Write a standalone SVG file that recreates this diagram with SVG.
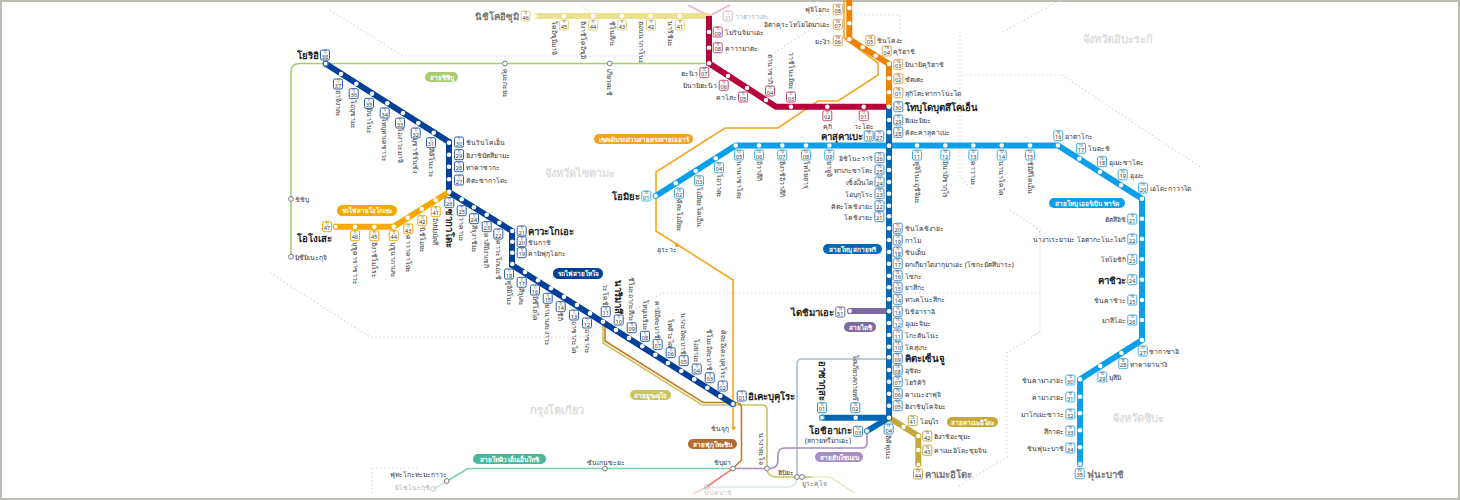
<svg xmlns="http://www.w3.org/2000/svg" width="1460" height="500" viewBox="0 0 1460 500">
<style>
text{font-family:"Noto Sans","Liberation Sans","DejaVu Sans",sans-serif;fill:#333;font-size:6.8px;dominant-baseline:central}
.c{font-size:3px;text-anchor:middle}
.n{font-size:5.6px;text-anchor:middle}
.r{text-anchor:end}
.v{writing-mode:vertical-rl}
.e{writing-mode:vertical-rl;text-anchor:end}
.h{font-size:9.6px;font-weight:bold;fill:#222}
.g{fill:#777}
.f{opacity:.4}
.p{fill:#fff;font-weight:bold;font-size:6.4px;text-anchor:middle}
.w{fill:#ddd;font-size:11px;font-weight:bold}
circle{fill:#fff}
.o{stroke:#777;stroke-width:1}
path{fill:none}
.t{stroke-width:1.2}
.ln{stroke-width:6}
.th{stroke-width:1.6}
.d{stroke:#d8d8d8;stroke-width:1.2;stroke-dasharray:1.4 2.6}
#b{fill:#fff;stroke-width:1}
.tj use,.tj .t{stroke:#2a5fae}.ti use,.ti .t{stroke:#c9487a}.tn use{stroke:#f3a04a}.ky use{stroke:#e6d772}
.og use,.og .t{stroke:#f5a800}.ts use,.ts .t{stroke:#3f8fd2}.td use,.td .t{stroke:#3cb2ef}.ka use,.ka .t{stroke:#c5a93c}.da use,.da .t{stroke:#7b6a9f}
</style>
<defs><rect id="b" x="-4.5" y="-5" width="9" height="10" rx="1.5"/></defs>
<rect x="1" y="1" width="1458" height="498" fill="#fff" stroke="#bcbcb4" stroke-width="2"/>
<g id="boundaries">
<path class="d" d="M330,10L403,56H709M771,55L817,25V15H900V32M1003,32L1060,0M960,35V177L973,190M962,75H1062L1200,167M1010,210L1040,230V332L1007,353V457L957,487M1030,223L1040,232M1040,332L1030,337M270,273L370,337H590L662,293H1040M372,468H420M372,468V493"/>
<text class="w" x="1083" y="38">จังหวัดอิบะระกิ</text>
<text class="w" x="545" y="172">จังหวัดไซตามะ</text>
<text class="w" x="530" y="409">กรุงโตเกียว</text>
<text class="w" x="1113" y="417">จังหวัดชิบะ</text>
</g>
<g id="connectors">
<path class="th" stroke="#a9cc6f" d="M291,256V72Q291,63.5 300,63.5H709"/>
<path class="th f" stroke="#c9487a" d="M688,5L709,16L730,5"/>
<path class="th f" stroke="#ebe28f" d="M581,5L593,16"/>
<path class="th" stroke="#f5a623" d="M844,0V38L878,63V75L838,101H818L778,128H725L656,172V231L733,280V428"/>
<path class="th" stroke="#a8bfca" d="M889,359H802Q797,359 797,364V477"/>
<path class="th f" stroke="#a8bfca" d="M797,477Q797,487 787,487H707"/>
<path class="th" stroke="#76d3b0" d="M733,468.5H468L447,481"/>
<path class="th f" stroke="#76d3b0" d="M447,481L433,489"/>
<path class="th" stroke="#f08080" d="M733,468.5L705,488"/>
<path class="th f" stroke="#f08080" d="M705,488L693,494"/>
<path class="th" stroke="#a78dc1" d="M733,468.5H770Q778,468 778,460V455Q778,448 785,448H862Q867,448 867,443V431"/>
<path class="th" stroke="#c9c660" d="M603,322V343L702,405H762Q767,405 767,410V468Q767,477 777,477H812"/>
<path class="th f" stroke="#c9c660" d="M812,477H830L855,493"/>
<path class="th" stroke="#c77a28" d="M605,322V341L703,402.5H735Q741.5,402.5 741.5,408V460L733,468.5"/>
<path class="ln" stroke="#004098" d="M325.7,63.7L449,142V192L512,231V265L733,404"/>
<path class="ln" stroke="#f5a800" d="M449,192L393.5,226.7H335.7"/>
<path class="ln" stroke="#ebe28f" d="M709,16H534"/>
<path class="ln" stroke="#b5023b" d="M709,16V63.3L776,106.7H889"/>
<path class="ln" stroke="#ef8200" d="M849.3,0V39.3L889,64V106.7"/>
<path class="ln" stroke="#7b6a9f" d="M850,311H889"/>
<path class="ln" stroke="#c5a93c" d="M889,417.7L918.3,436V464.3"/>
<path class="ln" stroke="#0a9fe8" d="M655.7,196L735.7,145.5H1058L1142,198.7V340L1080,379.3V464"/>
<path class="ln" stroke="#0068b7" d="M889,106.7V417.7L867,431M822,417.7H889"/>
</g>
<g id="pills">
<g id="p-chichibu"><rect x="425" y="72" width="33" height="10" rx="5" fill="#a9cc6f"/><text class="p" x="441.5" y="77">สายชิชิบุ</text></g>
<g id="p-ogose"><rect x="337" y="205" width="60" height="11" rx="5.5" fill="#f5a800"/><text class="p" x="367" y="210.5">รถไฟสายโอโกเซะ</text></g>
<g id="p-tojo"><rect x="553" y="268" width="50" height="11" rx="5.5" fill="#004098"/><text class="p" x="578" y="273.5">รถไฟสายโทโจ</text></g>
<g id="p-jr"><rect x="594" y="134" width="99" height="10" rx="5" fill="#f5a020"/><text class="p" x="643.5" y="139">เขตเดินรถด่วนสายตรงสายเจอาร์</text></g>
<g id="p-yura"><rect x="630" y="390" width="41" height="10" rx="5" fill="#c9c660"/><text class="p" x="650.5" y="395">สายยูระคุโจ</text></g>
<g id="p-fuku"><rect x="688" y="439" width="49" height="10" rx="5" fill="#b26b32"/><text class="p" x="712.5" y="444">สายฟุกุโทะชิน</text></g>
<g id="p-tokyu"><rect x="473" y="454" width="73" height="10" rx="5" fill="#48b898"/><text class="p" x="509.5" y="459">สายโทคิว เด็นเอ็นโทชิ</text></g>
<g id="p-hanzo"><rect x="815" y="452" width="48" height="10" rx="5" fill="#a78dc1"/><text class="p" x="839" y="457">สายฮันโซมอน</text></g>
<g id="p-daishi"><rect x="844" y="322" width="32" height="10" rx="5" fill="#7b6a9f"/><text class="p" x="860" y="327">สายไดชิ</text></g>
<g id="p-sky"><rect x="823" y="244" width="59" height="10" rx="5" fill="#0068b7"/><text class="p" x="852.5" y="249">สายโทบุ สกายทรี</text></g>
<g id="p-urban"><rect x="1049" y="198" width="76" height="10" rx="5" fill="#0a9fe8"/><text class="p" x="1087" y="203">สายโทบุ เออร์เบิน พาร์ค</text></g>
<g id="p-kame"><rect x="947" y="417" width="51" height="10" rx="5" fill="#c5a93c"/><text class="p" x="972.5" y="422">สายคาเมะอิโดะ</text></g>
</g>
<g id="other-stations">
<g id="chichibu"><circle class="o" cx="291" cy="199" r="2.4"/><text x="295" y="199">ชิชิบุ</text></g>
<g id="mitsumine"><circle class="o" cx="291" cy="256.7" r="2.4"/><text x="295" y="257">มิซึมิเนะกุจิ</text></g>
<g id="kumagaya"><circle class="o" cx="505" cy="63.5" r="2.4"/><text class="v" x="505" y="69">คุมะกะยะ</text></g>
<g id="gyoda"><circle class="o" cx="609.7" cy="63.5" r="2.4"/><text class="v" x="609.7" y="69">เกียวดะชิ</text></g>
<g id="urawa"><circle cx="677" cy="245.3" r="2" style="fill:#f5a623"/><text x="657" y="249">อุระวะ</text></g>
<g id="shinjuku"><circle cx="733.5" cy="428" r="2" style="fill:#f5a623"/><text class="r" x="729" y="428">ชินจุกุ</text></g>
<g id="shibuya"><circle class="o" cx="733" cy="468.5" r="2.4"/><text class="r" x="731" y="462">ชิบุย่า</text></g>
<g id="sangen"><circle class="o" cx="605" cy="468.5" r="2.4"/><text x="587" y="462">ซันเกนชะยะ</text></g>
<g id="futako"><circle class="o" cx="446.7" cy="481" r="2.4"/><text class="r" x="447" y="474">ฟุทะโกะทะมะกาวะ</text></g>
<g id="mizono" class="f"><circle class="o" cx="433" cy="489" r="2.4"/><text class="r" x="430" y="487">มิโซโนะกุชิ</text></g>
<g id="nagata"><circle class="o" cx="767" cy="468.5" r="2.4"/><text class="e" x="761" y="465">นางาตะโจ</text></g>
<g id="hibiya"><circle class="o" cx="797" cy="477" r="2.4"/><text class="r" x="794" y="472">ฮิบิยะ</text></g>
<g id="yurakucho"><circle class="o" cx="802" cy="477" r="2.4"/><text class="g" x="802" y="483">ยูระคุโจ</text></g>
<g id="takeb" class="f"><circle class="o" cx="706.7" cy="487" r="2.4"/><text class="g" x="704" y="492">ทาเคบาชิ</text></g>
</g>
<g class="tj">
<g id="TJ01"><circle class="t" cx="733" cy="404" r="2.5"/><g transform="translate(741.7,396)"><use href="#b"/><text class="c" y="-2.6">TJ</text><text class="n" y="1.6">01</text></g><text class="h" x="748" y="396">อิเคะบุคุโระ</text></g>
<g id="TJ02"><circle cx="720.3" cy="396" r="2.3"/><g transform="translate(722.7,386)"><use href="#b"/><text class="c" y="-2.6">TJ</text><text class="n" y="1.6">02</text></g><text class="e" x="723" y="379">คิตะอิเคะบุคุโระ</text></g>
<g id="TJ03"><circle cx="707.3" cy="387.7" r="2.3"/><g transform="translate(709.7,377.7)"><use href="#b"/><text class="c" y="-2.6">TJ</text><text class="n" y="1.6">03</text></g><text class="e" x="709.7" y="371">ชิโมะอิตะบาชิ</text></g>
<g id="TJ04"><circle cx="694.3" cy="379.3" r="2.3"/><g transform="translate(696.7,369)"><use href="#b"/><text class="c" y="-2.6">TJ</text><text class="n" y="1.6">04</text></g><text class="e" x="696.7" y="362.5">โอยามะ</text></g>
<g id="TJ05"><circle cx="681.3" cy="371" r="2.3"/><g transform="translate(683.7,360.7)"><use href="#b"/><text class="c" y="-2.6">TJ</text><text class="n" y="1.6">05</text></g><text class="e" x="683.7" y="354.5">นากะอิตะบาชิ</text></g>
<g id="TJ06"><circle cx="668" cy="363" r="2.3"/><g transform="translate(670.7,352.7)"><use href="#b"/><text class="c" y="-2.6">TJ</text><text class="n" y="1.6">06</text></g><text class="e" x="670.7" y="346.5">โทคิวะได</text></g>
<g id="TJ07"><circle cx="655.3" cy="354.7" r="2.3"/><g transform="translate(657.7,344.3)"><use href="#b"/><text class="c" y="-2.6">TJ</text><text class="n" y="1.6">07</text></g><text class="e" x="657.7" y="338.5">คามิอิตะบาชิ</text></g>
<g id="TJ08"><circle cx="642.3" cy="346.3" r="2.3"/><g transform="translate(645,336.3)"><use href="#b"/><text class="c" y="-2.6">TJ</text><text class="n" y="1.6">08</text></g><text class="e" x="645" y="330.5">โทบุเนริมะ</text></g>
<g id="TJ09"><circle cx="629" cy="338" r="2.3"/><g transform="translate(631.7,327.7)"><use href="#b"/><text class="c" y="-2.6">TJ</text><text class="n" y="1.6">09</text></g><text class="e" x="631.7" y="322">ชิโมะอากะสึกะ</text></g>
<g id="TJ10"><circle cx="616" cy="330" r="2.3"/><g transform="translate(618.7,320)"><use href="#b"/><text class="c" y="-2.6">TJ</text><text class="n" y="1.6">10</text></g><text class="e h" x="618.7" y="314">นาริมาสึ</text></g>
<g id="TJ11"><circle cx="603" cy="321.7" r="2.3"/><g transform="translate(605.7,311.7)"><use href="#b"/><text class="c" y="-2.6">TJ</text><text class="n" y="1.6">11</text></g><text class="e" x="605.7" y="306">วะโคชิ</text></g>
<g id="TJ12"><circle cx="590" cy="313.4" r="2.3"/><g transform="translate(587,323)"><use href="#b"/><text class="c" y="-2.6">TJ</text><text class="n" y="1.6">12</text></g><text class="v" x="587" y="329">อาซากะ</text></g>
<g id="TJ13"><circle cx="577" cy="305" r="2.3"/><g transform="translate(574,315)"><use href="#b"/><text class="c" y="-2.6">TJ</text><text class="n" y="1.6">13</text></g><text class="v" x="574" y="321">อาซากะได</text></g>
<g id="TJ14"><circle cx="564" cy="296.7" r="2.3"/><g transform="translate(560.7,306.7)"><use href="#b"/><text class="c" y="-2.6">TJ</text><text class="n" y="1.6">14</text></g><text class="v" x="560.7" y="312">ชิกิ</text></g>
<g id="TJ15"><circle cx="551" cy="288.3" r="2.3"/><g transform="translate(547.7,298.3)"><use href="#b"/><text class="c" y="-2.6">TJ</text><text class="n" y="1.6">15</text></g><text class="v" x="547.7" y="304">ยานาเสะงาวะ</text></g>
<g id="TJ16"><circle cx="538" cy="280.3" r="2.3"/><g transform="translate(535,290)"><use href="#b"/><text class="c" y="-2.6">TJ</text><text class="n" y="1.6">16</text></g><text class="v" x="535" y="296">มิซึโฮได</text></g>
<g id="TJ17"><circle cx="525" cy="272" r="2.3"/><g transform="translate(521.7,282.3)"><use href="#b"/><text class="c" y="-2.6">TJ</text><text class="n" y="1.6">17</text></g><text class="v" x="521.7" y="288">สึรุเสะ</text></g>
<g id="TJ18"><circle cx="512.3" cy="264" r="2.3"/><g transform="translate(509,274)"><use href="#b"/><text class="c" y="-2.6">TJ</text><text class="n" y="1.6">18</text></g><text class="v" x="509" y="280">ฟูจิมิโนะ</text></g>
<g id="TJ19"><circle cx="512.3" cy="252.7" r="2.3"/><g transform="translate(521.7,252.7)"><use href="#b"/><text class="c" y="-2.6">TJ</text><text class="n" y="1.6">19</text></g><text x="528" y="253">คามิฟุกุโอกะ</text></g>
<g id="TJ20"><circle cx="512.3" cy="241.7" r="2.3"/><g transform="translate(521.7,241.7)"><use href="#b"/><text class="c" y="-2.6">TJ</text><text class="n" y="1.6">20</text></g><text x="528" y="242">ชินกาชิ</text></g>
<g id="TJ21"><circle cx="512.3" cy="231" r="2.3"/><g transform="translate(521.7,231)"><use href="#b"/><text class="c" y="-2.6">TJ</text><text class="n" y="1.6">21</text></g><text class="h" x="528" y="231">คาวะโกเอะ</text></g>
<g id="TJ22"><circle cx="499.3" cy="222.7" r="2.3"/><g transform="translate(498.3,234)"><use href="#b"/><text class="c" y="-2.6">TJ</text><text class="n" y="1.6">22</text></g><text class="v" x="498.3" y="240">คาวะโกเอะชิ</text></g>
<g id="TJ23"><circle cx="486.7" cy="214.7" r="2.3"/><g transform="translate(486.7,226.7)"><use href="#b"/><text class="c" y="-2.6">TJ</text><text class="n" y="1.6">23</text></g><text class="v" x="486.7" y="233">คาสึมิงาเซกิ</text></g>
<g id="TJ24"><circle cx="474" cy="207.3" r="2.3"/><g transform="translate(474,218.7)"><use href="#b"/><text class="c" y="-2.6">TJ</text><text class="n" y="1.6">24</text></g><text class="v" x="474" y="225">สึรุงาชิมะ</text></g>
<g id="TJ25"><circle cx="461.7" cy="199.3" r="2.3"/><g transform="translate(461.7,210.7)"><use href="#b"/><text class="c" y="-2.6">TJ</text><text class="n" y="1.6">25</text></g><text class="v" x="461.7" y="217">วาคาบะ</text></g>
<g id="TJ26"><circle cx="449.3" cy="191.7" r="2.3"/><g transform="translate(449.3,202.7)"><use href="#b"/><text class="c" y="-2.6">TJ</text><text class="n" y="1.6">26</text></g><text class="v h" x="449.3" y="209">ซากาโดะ</text></g>
<g id="TJ27"><circle cx="449" cy="179.3" r="2.3"/><g transform="translate(459,180)"><use href="#b"/><text class="c" y="-2.6">TJ</text><text class="n" y="1.6">27</text></g><text x="466" y="180">คิตะซากาโดะ</text></g>
<g id="TJ28"><circle cx="449" cy="166.7" r="2.3"/><g transform="translate(459,166.7)"><use href="#b"/><text class="c" y="-2.6">TJ</text><text class="n" y="1.6">28</text></g><text x="466" y="167">ทาคาซากะ</text></g>
<g id="TJ29"><circle cx="449" cy="154.7" r="2.3"/><g transform="translate(459,154.7)"><use href="#b"/><text class="c" y="-2.6">TJ</text><text class="n" y="1.6">29</text></g><text x="466" y="155">ฮิงาชิมัตสึยามะ</text></g>
<g id="TJ30"><circle cx="449" cy="142.7" r="2.3"/><g transform="translate(459,142)"><use href="#b"/><text class="c" y="-2.6">TJ</text><text class="n" y="1.6">30</text></g><text x="466" y="142">ชินรินโคเอ็น</text></g>
<g id="TJ31"><circle cx="433.7" cy="132.7" r="2.3"/><g transform="translate(431,142.7)"><use href="#b"/><text class="c" y="-2.6">TJ</text><text class="n" y="1.6">31</text></g><text class="v" x="431" y="148">สึคิโนะวะ</text></g>
<g id="TJ32"><circle cx="418.3" cy="123" r="2.3"/><g transform="translate(415.7,133)"><use href="#b"/><text class="c" y="-2.6">TJ</text><text class="n" y="1.6">32</text></g><text class="v" x="415.7" y="138">มุซาชิรันซัง</text></g>
<g id="TJ33"><circle cx="403" cy="113" r="2.3"/><g transform="translate(400,123)"><use href="#b"/><text class="c" y="-2.6">TJ</text><text class="n" y="1.6">33</text></g><text class="v" x="400" y="128">โองาวะมาจิ</text></g>
<g id="TJ34"><circle cx="387.3" cy="103.3" r="2.3"/><g transform="translate(384.7,113)"><use href="#b"/><text class="c" y="-2.6">TJ</text><text class="n" y="1.6">34</text></g><text class="v" x="384.7" y="118">โทบุทาเคซาวะ</text></g>
<g id="TJ35"><circle cx="372" cy="93.7" r="2.3"/><g transform="translate(369,103.3)"><use href="#b"/><text class="c" y="-2.6">TJ</text><text class="n" y="1.6">35</text></g><text class="v" x="369" y="108">มินาโนะ</text></g>
<g id="TJ36"><circle cx="356.3" cy="83.7" r="2.3"/><g transform="translate(353.7,93.7)"><use href="#b"/><text class="c" y="-2.6">TJ</text><text class="n" y="1.6">36</text></g><text class="v" x="353.7" y="100">โอบุซามะ</text></g>
<g id="TJ37"><circle cx="341" cy="74" r="2.3"/><g transform="translate(338,84)"><use href="#b"/><text class="c" y="-2.6">TJ</text><text class="n" y="1.6">37</text></g><text class="v" x="338" y="90">ฮาจิงาตะ</text></g>
<g id="TJ38"><circle class="t" cx="325.7" cy="63.7" r="2.5"/><g transform="translate(325,55)"><use href="#b"/><text class="c" y="-2.6">TJ</text><text class="n" y="1.6">38</text></g><text class="h r" x="319" y="55">โยริอิ</text></g>
</g>
<g class="og">
<g id="OG41"><circle cx="435.7" cy="200" r="2.3"/><g transform="translate(435.7,211.7)"><use href="#b"/><text class="c" y="-2.6">TJ</text><text class="n" y="1.6">41</text></g><text class="v" x="435.7" y="218">อิปปงมัตสึ</text></g>
<g id="OG42"><circle cx="421.7" cy="209" r="2.3"/><g transform="translate(422.3,220.7)"><use href="#b"/><text class="c" y="-2.6">TJ</text><text class="n" y="1.6">42</text></g><text class="v" x="422.3" y="227">นิชิโอยะ</text></g>
<g id="OG43"><circle cx="407.7" cy="217.7" r="2.3"/><g transform="translate(408.3,229)"><use href="#b"/><text class="c" y="-2.6">TJ</text><text class="n" y="1.6">43</text></g><text class="v" x="408.3" y="235">คาวาคาโดะ</text></g>
<g id="OG44"><circle cx="393.7" cy="226.7" r="2.3"/><g transform="translate(393.7,235.7)"><use href="#b"/><text class="c" y="-2.6">TJ</text><text class="n" y="1.6">44</text></g><text class="v" x="393.7" y="242">บุชูนากาเสะ</text></g>
<g id="OG45"><circle cx="374.3" cy="226.7" r="2.3"/><g transform="translate(374.3,235.7)"><use href="#b"/><text class="c" y="-2.6">TJ</text><text class="n" y="1.6">45</text></g><text class="v" x="374.3" y="242">ฮิงาชิโมโระ</text></g>
<g id="OG46"><circle cx="355" cy="226.7" r="2.3"/><g transform="translate(355,235.7)"><use href="#b"/><text class="c" y="-2.6">TJ</text><text class="n" y="1.6">46</text></g><text class="v" x="355" y="242">บุชูคาราซาวะ</text></g>
<g id="OG47"><circle class="t" cx="335.7" cy="226.7" r="2.5"/><g transform="translate(327,226.7)"><use href="#b"/><text class="c" y="-2.6">TJ</text><text class="n" y="1.6">47</text></g><text class="h r" x="332" y="238.5">โอโงเสะ</text></g>
</g>
<g class="ky">
<g id="KY41"><circle cx="679.7" cy="16" r="2.3"/><g transform="translate(680,25)"><use href="#b"/><text class="c" y="-2.6">TI</text><text class="n" y="1.6">41</text></g><text class="v" x="670" y="21">นาริชิมะ</text></g>
<g id="KY42"><circle cx="650.7" cy="16" r="2.3"/><g transform="translate(651,25)"><use href="#b"/><text class="c" y="-2.6">TI</text><text class="n" y="1.6">42</text></g><text class="v" x="641" y="21">ฮอนนากาโนะ</text></g>
<g id="KY43"><circle cx="622" cy="16" r="2.3"/><g transform="translate(622,25)"><use href="#b"/><text class="c" y="-2.6">TI</text><text class="n" y="1.6">43</text></g><text class="v" x="612" y="21">ชิโนสึกะ</text></g>
<g id="KY44"><circle cx="593" cy="16" r="2.3"/><g transform="translate(593,25)"><use href="#b"/><text class="c" y="-2.6">TI</text><text class="n" y="1.6">44</text></g><text class="v" x="583" y="21">ฮิงาชิโคอิซุมิ</text></g>
<g id="KY45"><circle cx="564" cy="16" r="2.3"/><g transform="translate(564,25)"><use href="#b"/><text class="c" y="-2.6">TI</text><text class="n" y="1.6">45</text></g><text class="v" x="554" y="21">โคอิซุมิมาจิ</text></g>
<g id="KY46"><circle cx="534.3" cy="16" r="2.5"/><g transform="translate(525.7,16)"><use href="#b"/><text class="c" y="-2.6">TI</text><text class="n" y="1.6">46</text></g><text class="h r g" x="519" y="16">นิชิโคอิซุมิ</text></g>
</g>
<g class="ti">
<g id="TI31" class="f"><g transform="translate(727.7,16)"><use href="#b"/><text class="c" y="-2.6">TI</text><text class="n" y="1.6">31</text></g><text x="735" y="16">วาตาราเสะ</text></g>
<g id="TI09"><circle cx="709" cy="32" r="2.3"/><g transform="translate(717.7,32)"><use href="#b"/><text class="c" y="-2.6">TI</text><text class="n" y="1.6">09</text></g><text x="725" y="32">โมรินจิมาเอะ</text></g>
<g id="TI08"><circle cx="709" cy="47.7" r="2.3"/><g transform="translate(717.7,47.7)"><use href="#b"/><text class="c" y="-2.6">TI</text><text class="n" y="1.6">08</text></g><text x="725" y="48">คาวามาตะ</text></g>
<g id="TI07"><circle cx="709" cy="63.3" r="2.3"/><g transform="translate(704.3,72.7)"><use href="#b"/><text class="c" y="-2.6">TI</text><text class="n" y="1.6">07</text></g><text class="r" x="698" y="73">ฮะนิว</text></g>
<g id="TI06"><circle cx="728" cy="76" r="2.3"/><g transform="translate(723.7,85.3)"><use href="#b"/><text class="c" y="-2.6">TI</text><text class="n" y="1.6">06</text></g><text class="r" x="717" y="85.5">มินามิฮะนิว</text></g>
<g id="TI05"><circle cx="747" cy="88" r="2.3"/><g transform="translate(743,97)"><use href="#b"/><text class="c" y="-2.6">TI</text><text class="n" y="1.6">05</text></g><text class="r" x="737" y="97.5">คาโสะ</text></g>
<g id="TI04"><circle cx="766" cy="100" r="2.3"/><g transform="translate(770,91)"><use href="#b"/><text class="c" y="-2.6">TI</text><text class="n" y="1.6">04</text></g><text class="e" x="770" y="84">ฮานาซากิ</text></g>
<g id="TI03"><circle cx="791" cy="106.7" r="2.3"/><g transform="translate(791,97)"><use href="#b"/><text class="c" y="-2.6">TI</text><text class="n" y="1.6">03</text></g><text class="e" x="791" y="90">วาชิโนะมิยะ</text></g>
<g id="TI02"><circle cx="827.3" cy="106.7" r="2.3"/><g transform="translate(827.3,115.7)"><use href="#b"/><text class="c" y="-2.6">TI</text><text class="n" y="1.6">02</text></g><text style="text-anchor:middle" x="827.3" y="126">คุกิ</text></g>
<g id="TI01"><circle cx="863.7" cy="106.7" r="2.3"/><g transform="translate(863.7,115.7)"><use href="#b"/><text class="c" y="-2.6">TI</text><text class="n" y="1.6">01</text></g><text style="text-anchor:middle" x="863.7" y="126">วะโดะ</text></g>
</g>
<g class="tn">
<g id="TN08"><circle cx="849.3" cy="8" r="2.3"/><g transform="translate(837.7,9.3)"><use href="#b"/><text class="c" y="-2.6">TN</text><text class="n" y="1.6">08</text></g><text class="r" x="830" y="9.5">ฟุจิโอกะ</text></g>
<g id="TN07"><circle cx="849.3" cy="23.3" r="2.3"/><g transform="translate(837.7,24.3)"><use href="#b"/><text class="c" y="-2.6">TN</text><text class="n" y="1.6">07</text></g><text class="r" x="830" y="24.5">อิตาคุระโทโยไดมาเอะ</text></g>
<g id="TN06"><circle cx="849.3" cy="39.3" r="2.3"/><g transform="translate(837.7,40.7)"><use href="#b"/><text class="c" y="-2.6">TN</text><text class="n" y="1.6">06</text></g><text class="r" x="830" y="41">ยะงิว</text></g>
<g id="TN05"><circle cx="862.7" cy="47.3" r="2.3"/><g transform="translate(870.3,40.3)"><use href="#b"/><text class="c" y="-2.6">TN</text><text class="n" y="1.6">05</text></g><text x="877" y="40.5">ชินโคงะ</text></g>
<g id="TN04"><circle cx="875.7" cy="55.7" r="2.3"/><g transform="translate(886.7,51)"><use href="#b"/><text class="c" y="-2.6">TN</text><text class="n" y="1.6">04</text></g><text x="893" y="51.5">คุริฮาชิ</text></g>
<g id="TN03"><circle cx="889" cy="64" r="2.3"/><g transform="translate(898.3,64.3)"><use href="#b"/><text class="c" y="-2.6">TN</text><text class="n" y="1.6">03</text></g><text x="905" y="64.5">มินามิคุริฮาชิ</text></g>
<g id="TN02"><circle cx="889" cy="78.3" r="2.3"/><g transform="translate(898.3,78.7)"><use href="#b"/><text class="c" y="-2.6">TN</text><text class="n" y="1.6">02</text></g><text x="905" y="79">ซัตเตะ</text></g>
<g id="TN01"><circle cx="889" cy="92.3" r="2.3"/><g transform="translate(898.3,92.7)"><use href="#b"/><text class="c" y="-2.6">TN</text><text class="n" y="1.6">01</text></g><text x="905" y="93">สุกิโตะทากาโนะได</text></g>
</g>
<g class="ts">
<g id="TS30"><circle cx="889" cy="106.7" r="2.3"/><g transform="translate(898.3,106.7)"><use href="#b"/><text class="c" y="-2.6">TS</text><text class="n" y="1.6">30</text></g><text class="h" x="905" y="107">โทบุโดบุตสึโคเอ็น</text></g>
<g id="TS29"><circle cx="889" cy="120" r="2.3"/><g transform="translate(898.3,120)"><use href="#b"/><text class="c" y="-2.6">TS</text><text class="n" y="1.6">29</text></g><text x="905" y="120">ฮิเมะมิยะ</text></g>
<g id="TS28"><circle cx="889" cy="132.3" r="2.3"/><g transform="translate(898.3,132.3)"><use href="#b"/><text class="c" y="-2.6">TS</text><text class="n" y="1.6">28</text></g><text x="905" y="132.5">คิตะคาสุคาเบะ</text></g>
<g id="TS27"><circle cx="889" cy="145.7" r="2.3"/><g transform="translate(879.3,136)"><use href="#b"/><text class="c" y="-2.6">TS</text><text class="n" y="1.6">27</text></g><g transform="translate(868.7,136)"><use href="#b"/><text class="c" y="-2.6">TD</text><text class="n" y="1.6">10</text></g><text class="h r" x="862.7" y="136.5">คาสุคาเบะ</text></g>
<g id="TS26"><circle cx="889" cy="157.7" r="2.3"/><g transform="translate(879.5,157.7)"><use href="#b"/><text class="c" y="-2.6">TS</text><text class="n" y="1.6">26</text></g><text class="r" x="873" y="158">อิชิโนะวาริ</text></g>
<g id="TS25"><circle cx="889" cy="170" r="2.3"/><g transform="translate(879.5,170)"><use href="#b"/><text class="c" y="-2.6">TS</text><text class="n" y="1.6">25</text></g><text class="r" x="873" y="170">ทาเกะซาโตะ</text></g>
<g id="TS24"><circle cx="889" cy="182" r="2.3"/><g transform="translate(879.5,182)"><use href="#b"/><text class="c" y="-2.6">TS</text><text class="n" y="1.6">24</text></g><text class="r" x="873" y="182">เซ็งเง็นได</text></g>
<g id="TS23"><circle cx="889" cy="193.7" r="2.3"/><g transform="translate(879.5,193.7)"><use href="#b"/><text class="c" y="-2.6">TS</text><text class="n" y="1.6">23</text></g><text class="r" x="873" y="194">โอบุกุโระ</text></g>
<g id="TS22"><circle cx="889" cy="205.7" r="2.3"/><g transform="translate(879.5,205.7)"><use href="#b"/><text class="c" y="-2.6">TS</text><text class="n" y="1.6">22</text></g><text class="r" x="873" y="206">คิตะโคชิงายะ</text></g>
<g id="TS21"><circle cx="889" cy="216.3" r="2.3"/><g transform="translate(879.3,216.7)"><use href="#b"/><text class="c" y="-2.6">TS</text><text class="n" y="1.6">21</text></g><text class="r" x="873" y="217">โคชิงายะ</text></g>
<g id="TS20"><circle cx="889" cy="228.3" r="2.3"/><g transform="translate(897.7,228.3)"><use href="#b"/><text class="c" y="-2.6">TS</text><text class="n" y="1.6">20</text></g><text x="905" y="228.5">ชินโคชิงายะ</text></g>
<g id="TS19"><circle cx="889" cy="240" r="2.3"/><g transform="translate(897.7,240)"><use href="#b"/><text class="c" y="-2.6">TS</text><text class="n" y="1.6">19</text></g><text x="905" y="240">กาโม</text></g>
<g id="TS18"><circle cx="889" cy="252" r="2.3"/><g transform="translate(897.7,252)"><use href="#b"/><text class="c" y="-2.6">TS</text><text class="n" y="1.6">18</text></g><text x="905" y="252">ชินเด็น</text></g>
<g id="TS17"><circle cx="889" cy="263.7" r="2.3"/><g transform="translate(897.7,263.7)"><use href="#b"/><text class="c" y="-2.6">TS</text><text class="n" y="1.6">17</text></g><text x="905" y="264">ดกเกียวไดงากุมาเอะ (โซกะมัตสึบาระ)</text></g>
<g id="TS16"><circle cx="889" cy="275.7" r="2.3"/><g transform="translate(897.7,275.7)"><use href="#b"/><text class="c" y="-2.6">TS</text><text class="n" y="1.6">16</text></g><text x="905" y="276">โซกะ</text></g>
<g id="TS15"><circle cx="889" cy="287.3" r="2.3"/><g transform="translate(897.7,287.3)"><use href="#b"/><text class="c" y="-2.6">TS</text><text class="n" y="1.6">15</text></g><text x="905" y="287.5">ยาสึกะ</text></g>
<g id="TS14"><circle cx="889" cy="299.3" r="2.3"/><g transform="translate(897.7,299.3)"><use href="#b"/><text class="c" y="-2.6">TS</text><text class="n" y="1.6">14</text></g><text x="905" y="299.5">ทาเคโนะสึกะ</text></g>
<g id="TS13"><circle cx="889" cy="311.3" r="2.3"/><g transform="translate(897.7,311.3)"><use href="#b"/><text class="c" y="-2.6">TS</text><text class="n" y="1.6">13</text></g><text x="905" y="311.5">นิชิอาราอิ</text></g>
<g id="TS12"><circle cx="889" cy="323" r="2.3"/><g transform="translate(897.7,323)"><use href="#b"/><text class="c" y="-2.6">TS</text><text class="n" y="1.6">12</text></g><text x="905" y="323">อุเมะจิมะ</text></g>
<g id="TS11"><circle cx="889" cy="335" r="2.3"/><g transform="translate(897.7,335)"><use href="#b"/><text class="c" y="-2.6">TS</text><text class="n" y="1.6">11</text></g><text x="905" y="335">โกะตันโนะ</text></g>
<g id="TS10"><circle cx="889" cy="346.7" r="2.3"/><g transform="translate(897.7,346.7)"><use href="#b"/><text class="c" y="-2.6">TS</text><text class="n" y="1.6">10</text></g><text x="905" y="347">โคสุเกะ</text></g>
<g id="TS09"><circle cx="889" cy="357.3" r="2.3"/><g transform="translate(897.7,358.5)"><use href="#b"/><text class="c" y="-2.6">TS</text><text class="n" y="1.6">09</text></g><text class="h" x="905" y="358.5">คิตะเซ็นจู</text></g>
<g id="TS08"><circle cx="889" cy="370" r="2.3"/><g transform="translate(897.7,370)"><use href="#b"/><text class="c" y="-2.6">TS</text><text class="n" y="1.6">08</text></g><text x="905" y="370">อุชิดะ</text></g>
<g id="TS07"><circle cx="889" cy="381.7" r="2.3"/><g transform="translate(897.7,381.7)"><use href="#b"/><text class="c" y="-2.6">TS</text><text class="n" y="1.6">07</text></g><text x="905" y="382">โฮริคิริ</text></g>
<g id="TS06"><circle cx="889" cy="393.7" r="2.3"/><g transform="translate(897.7,393.7)"><use href="#b"/><text class="c" y="-2.6">TS</text><text class="n" y="1.6">06</text></g><text x="905" y="394">คาเนะงาฟุจิ</text></g>
<g id="TS05"><circle cx="889" cy="405.7" r="2.3"/><g transform="translate(897.7,405.7)"><use href="#b"/><text class="c" y="-2.6">TS</text><text class="n" y="1.6">05</text></g><text x="905" y="406">ฮิงาชิมุโคจิมะ</text></g>
<g id="TS04"><circle cx="889" cy="417.7" r="2.3"/><g transform="translate(888.7,429)"><use href="#b"/><text class="c" y="-2.6">TS</text><text class="n" y="1.6">04</text></g><text class="v" x="888.7" y="435">ฮิคิฟุเนะ</text></g>
<g id="TS03"><circle class="t" cx="867" cy="431" r="2.5"/><g transform="translate(858,431.3)"><use href="#b"/><text class="c" y="-2.6">TS</text><text class="n" y="1.6">03</text></g><text class="h r" x="852" y="430">โอชิอาเกะ</text><text class="r" x="851" y="440">(สกายทรีมาเอะ)</text></g>
<g id="TS02"><circle cx="855.7" cy="417.7" r="2.3"/><g transform="translate(855.3,407.7)"><use href="#b"/><text class="c" y="-2.6">TS</text><text class="n" y="1.6">02</text></g><text class="e" x="855.3" y="401">โตเกียวสกายทรี</text></g>
<g id="TS01"><circle class="t" cx="822" cy="417.7" r="2.5"/><g transform="translate(822,407.7)"><use href="#b"/><text class="c" y="-2.6">TS</text><text class="n" y="1.6">01</text></g><text class="e h" x="822" y="401">อาซากุสะ</text></g>
</g>
<g class="da"><g id="TS51"><circle class="t" cx="850" cy="311" r="2.5"/><g transform="translate(840.3,312)"><use href="#b"/><text class="c" y="-2.6">TS</text><text class="n" y="1.6">51</text></g><text class="h r" x="834" y="312">ไดชิมาเอะ</text></g></g>
<g class="ka">
<g id="TS41"><circle cx="903.7" cy="426.7" r="2.3"/><g transform="translate(912.7,420.7)"><use href="#b"/><text class="c" y="-2.6">TS</text><text class="n" y="1.6">41</text></g><text x="920" y="421">โอมุไร</text></g>
<g id="TS42"><circle cx="918.3" cy="436" r="2.3"/><g transform="translate(927.3,436)"><use href="#b"/><text class="c" y="-2.6">TS</text><text class="n" y="1.6">42</text></g><text x="934" y="436">ฮิงาชิอะซุมะ</text></g>
<g id="TS43"><circle cx="918.3" cy="450" r="2.3"/><g transform="translate(927.3,450.3)"><use href="#b"/><text class="c" y="-2.6">TS</text><text class="n" y="1.6">43</text></g><text x="934" y="450.5">คาเมะอิโดะซุยจิน</text></g>
<g id="TS44"><circle class="t" cx="918.3" cy="464.3" r="2.5"/><g transform="translate(918,474)"><use href="#b"/><text class="c" y="-2.6">TS</text><text class="n" y="1.6">44</text></g><text class="h g" x="925" y="474">คาเมะอิโดะ</text></g>
</g>
<g class="td">
<g id="TD01"><circle class="t" cx="655.7" cy="196" r="2.5"/><g transform="translate(646.3,196)"><use href="#b"/><text class="c" y="-2.6">TD</text><text class="n" y="1.6">01</text></g><text class="h r" x="640" y="196">โอมิยะ</text></g>
<g id="TD02"><circle cx="675.7" cy="183.3" r="2.3"/><g transform="translate(679,193.3)"><use href="#b"/><text class="c" y="-2.6">TD</text><text class="n" y="1.6">02</text></g><text class="v" x="679" y="199">คิตะโอมิยะ</text></g>
<g id="TD03"><circle cx="695.7" cy="171" r="2.3"/><g transform="translate(699,180.7)"><use href="#b"/><text class="c" y="-2.6">TD</text><text class="n" y="1.6">03</text></g><text class="v" x="699" y="187">โอมิยะโคเอ็น</text></g>
<g id="TD04"><circle cx="715.7" cy="158.3" r="2.3"/><g transform="translate(719,167.7)"><use href="#b"/><text class="c" y="-2.6">TD</text><text class="n" y="1.6">04</text></g><text class="v" x="719" y="174">โอวาดะ</text></g>
<g id="TD05"><circle cx="735.7" cy="145.5" r="2.3"/><g transform="translate(739,155)"><use href="#b"/><text class="c" y="-2.6">TD</text><text class="n" y="1.6">05</text></g><text class="v" x="739" y="161">นานาซาโตะ</text></g>
<g id="TD06"><circle cx="759" cy="145.5" r="2.3"/><g transform="translate(759,155)"><use href="#b"/><text class="c" y="-2.6">TD</text><text class="n" y="1.6">06</text></g><text class="v" x="759" y="161">อิวาสึกิ</text></g>
<g id="TD07"><circle cx="782.3" cy="145.5" r="2.3"/><g transform="translate(782.3,155)"><use href="#b"/><text class="c" y="-2.6">TD</text><text class="n" y="1.6">07</text></g><text class="v" x="782.3" y="161">ฮิงาชิอิวาสึกิ</text></g>
<g id="TD08"><circle cx="806" cy="145.5" r="2.3"/><g transform="translate(806,155)"><use href="#b"/><text class="c" y="-2.6">TD</text><text class="n" y="1.6">08</text></g><text class="v" x="806" y="161">โทโยฮารุ</text></g>
<g id="TD09"><circle cx="829.3" cy="145.5" r="2.3"/><g transform="translate(829.3,155)"><use href="#b"/><text class="c" y="-2.6">TD</text><text class="n" y="1.6">09</text></g><text class="v" x="829.3" y="161">ยาจูจิ</text></g>
<g id="TD10"><circle cx="889" cy="145.7" r="2.3"/></g>
<g id="TD11"><circle cx="917" cy="145.5" r="2.3"/><g transform="translate(917,155)"><use href="#b"/><text class="c" y="-2.6">TD</text><text class="n" y="1.6">11</text></g><text class="v" x="917" y="161">ฟูจิโนะอุชิจิมะ</text></g>
<g id="TD12"><circle cx="945.3" cy="145.5" r="2.3"/><g transform="translate(945.3,155)"><use href="#b"/><text class="c" y="-2.6">TD</text><text class="n" y="1.6">12</text></g><text class="v" x="945.3" y="161">มินามิซากุไร</text></g>
<g id="TD13"><circle cx="973.3" cy="145.5" r="2.3"/><g transform="translate(973.3,155)"><use href="#b"/><text class="c" y="-2.6">TD</text><text class="n" y="1.6">13</text></g><text class="v" x="973.3" y="161">คาวามะ</text></g>
<g id="TD14"><circle cx="1001.7" cy="145.5" r="2.3"/><g transform="translate(1001.7,155)"><use href="#b"/><text class="c" y="-2.6">TD</text><text class="n" y="1.6">14</text></g><text class="v" x="1001.7" y="161">นานาโคได</text></g>
<g id="TD15"><circle cx="1030" cy="145.5" r="2.3"/><g transform="translate(1030,155)"><use href="#b"/><text class="c" y="-2.6">TD</text><text class="n" y="1.6">15</text></g><text class="v" x="1030" y="161">ชิมิสึโคเอ็น</text></g>
<g id="TD16"><circle cx="1058" cy="145.5" r="2.3"/><g transform="translate(1058.3,135.7)"><use href="#b"/><text class="c" y="-2.6">TD</text><text class="n" y="1.6">16</text></g><text x="1065" y="136">อาตาโกะ</text></g>
<g id="TD17"><circle cx="1079.3" cy="158.7" r="2.3"/><g transform="translate(1081,148.3)"><use href="#b"/><text class="c" y="-2.6">TD</text><text class="n" y="1.6">17</text></g><text x="1088" y="148.5">โนดะชิ</text></g>
<g id="TD18"><circle cx="1100" cy="171.7" r="2.3"/><g transform="translate(1102,161.7)"><use href="#b"/><text class="c" y="-2.6">TD</text><text class="n" y="1.6">18</text></g><text x="1109" y="162">อุเมะซาโตะ</text></g>
<g id="TD19"><circle cx="1121" cy="185.3" r="2.3"/><g transform="translate(1122.7,174.7)"><use href="#b"/><text class="c" y="-2.6">TD</text><text class="n" y="1.6">19</text></g><text x="1130" y="175">อุงงะ</text></g>
<g id="TD20"><circle cx="1142" cy="198.7" r="2.3"/><g transform="translate(1143,188)"><use href="#b"/><text class="c" y="-2.6">TD</text><text class="n" y="1.6">20</text></g><text x="1150" y="188">เอโดะกาวาได</text></g>
<g id="TD21"><circle cx="1142" cy="218.7" r="2.3"/><g transform="translate(1132.3,219)"><use href="#b"/><text class="c" y="-2.6">TD</text><text class="n" y="1.6">21</text></g><text class="r" x="1126" y="219">ฮัตสึอิชิ</text></g>
<g id="TD22"><circle cx="1142" cy="239" r="2.3"/><g transform="translate(1132.3,239)"><use href="#b"/><text class="c" y="-2.6">TD</text><text class="n" y="1.6">22</text></g><text class="r" x="1126" y="239">นางาเระยามะ โอตากะโนะโมริ</text></g>
<g id="TD23"><circle cx="1142" cy="259.3" r="2.3"/><g transform="translate(1132.3,259.3)"><use href="#b"/><text class="c" y="-2.6">TD</text><text class="n" y="1.6">23</text></g><text class="r" x="1126" y="259.5">โทโยชิกิ</text></g>
<g id="TD24"><circle cx="1142" cy="279.7" r="2.3"/><g transform="translate(1132.3,279.7)"><use href="#b"/><text class="c" y="-2.6">TD</text><text class="n" y="1.6">24</text></g><text class="h r" x="1126" y="280">คาชิวะ</text></g>
<g id="TD25"><circle cx="1142" cy="300" r="2.3"/><g transform="translate(1132.3,300)"><use href="#b"/><text class="c" y="-2.6">TD</text><text class="n" y="1.6">25</text></g><text class="r" x="1126" y="300">ชินคาชิวะ</text></g>
<g id="TD26"><circle cx="1142" cy="320" r="2.3"/><g transform="translate(1132.3,320)"><use href="#b"/><text class="c" y="-2.6">TD</text><text class="n" y="1.6">26</text></g><text class="r" x="1126" y="320">มาสึโอะ</text></g>
<g id="TD27"><circle cx="1142" cy="340" r="2.3"/><g transform="translate(1142.7,351)"><use href="#b"/><text class="c" y="-2.6">TD</text><text class="n" y="1.6">27</text></g><text x="1149" y="351">ซากาซาอิ</text></g>
<g id="TD28"><circle cx="1121.3" cy="353" r="2.3"/><g transform="translate(1123.3,363.7)"><use href="#b"/><text class="c" y="-2.6">TD</text><text class="n" y="1.6">28</text></g><text x="1130" y="364">ทาคายานางิ</text></g>
<g id="TD29"><circle cx="1100.3" cy="366" r="2.3"/><g transform="translate(1102.3,377)"><use href="#b"/><text class="c" y="-2.6">TD</text><text class="n" y="1.6">29</text></g><text x="1109" y="377">มุสึมิ</text></g>
<g id="TD30"><circle cx="1080" cy="379.3" r="2.3"/><g transform="translate(1070.3,380)"><use href="#b"/><text class="c" y="-2.6">TD</text><text class="n" y="1.6">30</text></g><text class="r" x="1064" y="380">ชินคามางายะ</text></g>
<g id="TD31"><circle cx="1080" cy="396.7" r="2.3"/><g transform="translate(1070.3,397)"><use href="#b"/><text class="c" y="-2.6">TD</text><text class="n" y="1.6">31</text></g><text class="r" x="1064" y="397">คามางายะ</text></g>
<g id="TD32"><circle cx="1080" cy="413.3" r="2.3"/><g transform="translate(1070.3,414)"><use href="#b"/><text class="c" y="-2.6">TD</text><text class="n" y="1.6">32</text></g><text class="r" x="1064" y="414">มาโกเมะซาวะ</text></g>
<g id="TD33"><circle cx="1080" cy="430.3" r="2.3"/><g transform="translate(1070.3,431)"><use href="#b"/><text class="c" y="-2.6">TD</text><text class="n" y="1.6">33</text></g><text class="r" x="1064" y="431">สึกาดะ</text></g>
<g id="TD34"><circle cx="1080" cy="447.3" r="2.3"/><g transform="translate(1070.3,448)"><use href="#b"/><text class="c" y="-2.6">TD</text><text class="n" y="1.6">34</text></g><text class="r" x="1064" y="448">ชินฟุนะบาชิ</text></g>
<g id="TD35"><circle class="t" cx="1080" cy="464" r="2.5"/><g transform="translate(1079.7,473.7)"><use href="#b"/><text class="c" y="-2.6">TD</text><text class="n" y="1.6">35</text></g><text class="h g" x="1087" y="474">ฟุนะบาชิ</text></g>
</g>
</svg>
